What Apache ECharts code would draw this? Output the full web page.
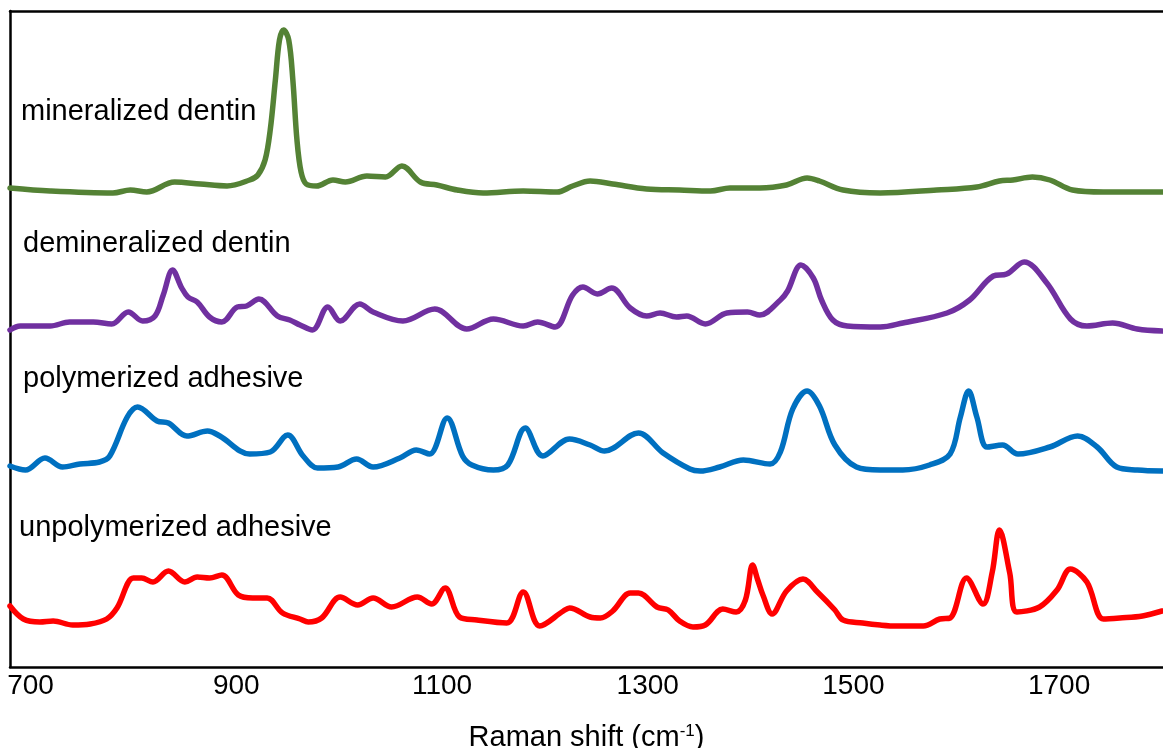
<!DOCTYPE html>
<html><head><meta charset="utf-8">
<script src="https://cdn.jsdelivr.net/npm/echarts@6/dist/echarts.min.js"></script>
<style>html,body{margin:0;padding:0;background:#fff}#c{width:1163px;height:748px}</style>
</head><body><div id="c"></div>
<script>
// Tick labels on the Raman shift axis (cm-1)
const xTickValues = [700, 900, 1100, 1300, 1500, 1700];
const seriesNames = ['mineralized dentin', 'demineralized dentin', 'polymerized adhesive', 'unpolymerized adhesive'];

// Raman shift (cm-1) and offset intensity (a.u.)
const mineralizedX = [680,719,780,797,813,840,865,891,913,921,928,933,938,942,946,951,955,959,963,968,978,994,1006,1027,1045,1061,1079,1095,1115,1140,1179,1212,1227,1244,1266,1299,1331,1361,1380,1409,1435,1455,1467,1490,1526,1581,1620,1642,1655,1674,1691,1713,1743,1800];
const mineralizedY = [479,476,474,477,475,485,483,481,487,492,507,537,587,627,637,627,587,527,495,483,481,487,485,491,490,501,485,482,477,474,476,475,481,486,483,478,477,476,479,479,482,489,486,477,474,477,480,486,487,490,487,477,475,475];

const demineralizedX = [680,690,719,738,761,779,795,809,821,829,838,847,853,862,874,886,901,910,922,940,952,962,974,989,1001,1020,1033,1062,1093,1124,1150,1179,1193,1210,1227,1237,1251,1265,1283,1299,1312,1328,1338,1356,1377,1397,1409,1429,1436,1449,1461,1469,1480,1494,1526,1548,1591,1613,1636,1649,1666,1688,1711,1727,1752,1776,1800];
const demineralizedY = [337,341,341,345,345,343,355,346,351,372,397,379,370,365,350,345,360,361,368,351,347,342,337,360,346,363,355,346,358,338,348,341,345,340,372,380,373,379,359,351,354,350,351,343,354,355,352,367,376,402,389,367,347,341,340,344,354,367,391,393,405,384,348,341,344,338,336];

const polymerizedX = [680,695,714,731,748,767,777,794,804,823,834,852,872,884,913,933,950,965,979,999,1017,1033,1059,1075,1088,1105,1120,1129,1150,1164,1181,1198,1224,1244,1258,1291,1315,1341,1351,1370,1393,1419,1429,1441,1455,1467,1482,1503,1526,1548,1574,1594,1604,1612,1620,1630,1645,1660,1691,1718,1737,1756,1776,1800];
const polymerizedY = [201,197,209,200,203,205,211,250,260,246,244,231,236,231,213,215,232,211,199,200,208,200,209,217,213,249,211,202,197,202,239,211,228,222,216,234,214,198,196,200,207,203,215,258,276,261,222,200,197,197,202,213,250,276,250,220,222,213,220,231,220,200,197,196];

const unpolymerizedX = [680,693,709,722,741,758,774,784,800,808,819,834,850,862,874,886,902,916,930,945,962,970,983,1001,1018,1033,1051,1076,1090,1103,1117,1134,1163,1179,1195,1218,1224,1244,1254,1266,1283,1291,1309,1320,1331,1344,1356,1373,1386,1395,1402,1407,1412,1421,1435,1451,1465,1482,1490,1509,1526,1542,1568,1584,1594,1610,1626,1635,1642,1652,1659,1681,1698,1711,1727,1743,1759,1781,1800];
const unpolymerizedY = [61,48,45,46,42,43,48,59,89,89,85,96,85,90,89,92,72,69,69,54,48,45,49,70,62,69,60,70,63,79,50,47,44,75,41,56,59,50,49,56,74,74,60,57,46,40,42,58,55,67,102,87,72,53,76,88,75,57,47,44,42,41,41,48,49,89,63,95,137,94,55,60,77,98,85,48,49,51,56];

const FONT = '"Liberation Sans", Arial, sans-serif';
function pairs(xs, ys) { return xs.map(function (x, i) { return [x, ys[i]]; }); }

const defs = [
  { xs: mineralizedX, ys: mineralizedY, color: '#548235', left: 21, top: 97 },
  { xs: demineralizedX, ys: demineralizedY, color: '#7030A0', left: 23, top: 229 },
  { xs: polymerizedX, ys: polymerizedY, color: '#0070C0', left: 23, top: 364 },
  { xs: unpolymerizedX, ys: unpolymerizedY, color: '#FF0000', left: 19, top: 513 }
];

const BORDER = { show: true, onZero: false, lineStyle: { color: '#000', width: 2.5 } };

const chart = echarts.init(document.getElementById('c'), null, { renderer: 'canvas' });
chart.setOption({
  animation: false,
  backgroundColor: '#fff',
  grid: { left: 10, right: 0, top: 11, bottom: 81, containLabel: false, outerBoundsMode: 'none' },
  xAxis: [{
    type: 'value', min: 680, max: 1801, position: 'bottom',
    axisLine: BORDER, axisTick: { show: false }, splitLine: { show: false },
    axisLabel: {
      customValues: xTickValues, fontSize: 28, color: '#000', fontFamily: FONT, margin: 5,
      formatter: function (v) { return String(v); }
    },
    name: '{a|Raman shift (cm}{b|-1}{a|)}',
    nameLocation: 'middle', nameGap: 56,
    nameTextStyle: {
      rich: {
        a: { fontSize: 29, color: '#000', fontFamily: FONT },
        b: { fontSize: 17, color: '#000', fontFamily: FONT, verticalAlign: 'top' }
      }
    }
  }, {
    type: 'value', min: 680, max: 1801, position: 'top',
    axisLine: BORDER, axisTick: { show: false }, splitLine: { show: false }, axisLabel: { show: false }
  }],
  yAxis: {
    type: 'value', min: 0, max: 656, position: 'left',
    axisLine: BORDER, axisTick: { show: false }, splitLine: { show: false }, axisLabel: { show: false }
  },
  graphic: defs.map(function (d, i) {
    return { type: 'text', left: d.left, top: d.top, style: { text: seriesNames[i], fontSize: 29, fontFamily: FONT, fill: '#000' } };
  }),
  series: defs.map(function (d, i) {
    return {
      name: seriesNames[i], type: 'line', xAxisIndex: 0, data: pairs(d.xs, d.ys),
      showSymbol: false, symbol: 'none', smooth: 0.35,
      lineStyle: { color: d.color, width: 5.5, cap: 'round', join: 'round' },
      clip: false
    };
  })
});
</script>
</body></html>
